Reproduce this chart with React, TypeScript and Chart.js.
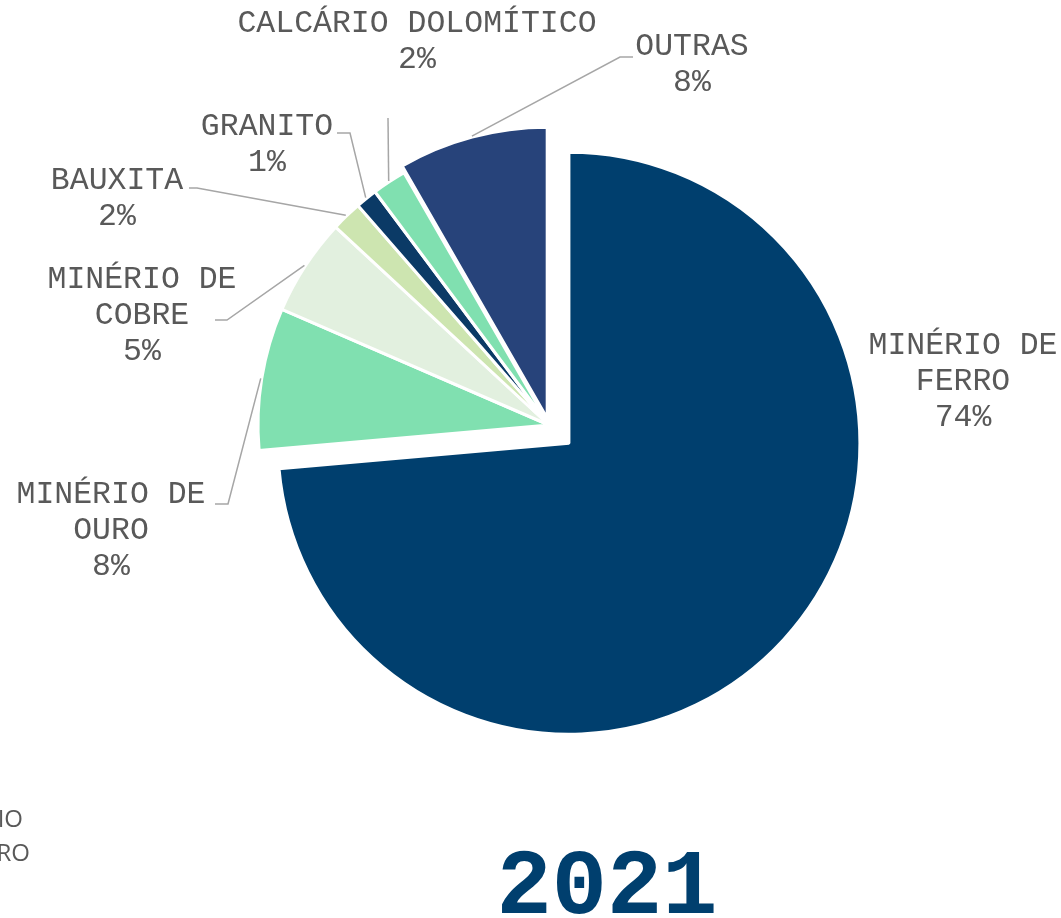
import React, { useEffect, useRef } from "react";
import { Chart, registerables } from "chart.js";

Chart.register(...registerables);

// ---- data ----
const categories: string[][] = [
  ["MINÉRIO DE", "FERRO"],
  ["MINÉRIO DE", "OURO"],
  ["MINÉRIO DE", "COBRE"],
  ["BAUXITA"],
  ["GRANITO"],
  ["CALCÁRIO DOLOMÍTICO"],
  ["OUTRAS"],
];
const shares: number[] = [73.6, 7.9, 5.4, 1.7, 1.2, 1.9, 8.3];
const chartTitle = "2021";
const clippedNeighbourLabel: string[] = ["MINÉRIO", "FERRO"];

// ---- styles / layout ----
const colors = ["#003F6E", "#80E0B0", "#E2F0DF", "#CDE5B0", "#0B3A66", "#80E0B0", "#27437A"];
const explodeShift = [27, 0, 0, 0, 0, 0, 7]; // px, along each slice's bisector
const labelFont = '31.5px "Liberation Mono", "Courier New", monospace';
const labelColor = "#595959";
const leaderColor = "#A6A6A6";
const lineHeight = 36;
// text centre x, first line centre y, leader polyline points after the arc point
const labelLayout: { x: number; y: number; leader: number[][] }[] = [
  { x: 963, y: 346, leader: [] },
  { x: 111, y: 495, leader: [[228, 504], [215, 504]] },
  { x: 142, y: 280, leader: [[227, 320], [215, 320]] },
  { x: 117, y: 181, leader: [[197, 188], [189, 188]] },
  { x: 267, y: 127, leader: [[350, 133], [337, 133]] },
  { x: 417, y: 24, leader: [[388, 118]] },
  { x: 692, y: 47, leader: [[620, 57], [633, 57]] },
];

const labelsPlugin = {
  id: "outerLabels",
  afterDatasetUpdate(chart: any, args: any) {
    const meta = args.meta || chart.getDatasetMeta(args.index);
    meta.data.forEach((arc: any, i: number) => {
      const mid = (arc.startAngle + arc.endAngle) / 2;
      const s = explodeShift[i] || 0;
      arc.x += Math.cos(mid) * s;
      arc.y += Math.sin(mid) * s;
    });
  },
  afterDatasetsDraw(chart: any) {
    const ctx: CanvasRenderingContext2D = chart.ctx;
    const meta = chart.getDatasetMeta(0);
    const total = shares.reduce((a, b) => a + b, 0);
    ctx.save();
    meta.data.forEach((arc: any, i: number) => {
      const p = arc.getProps(["x", "y", "startAngle", "endAngle", "outerRadius"], true);
      const mid = (p.startAngle + p.endAngle) / 2;
      const lay = labelLayout[i];
      if (lay.leader.length) {
        const r = p.outerRadius + 1;
        ctx.beginPath();
        ctx.moveTo(p.x + Math.cos(mid) * r, p.y + Math.sin(mid) * r);
        lay.leader.forEach((pt) => ctx.lineTo(pt[0], pt[1]));
        ctx.strokeStyle = leaderColor;
        ctx.lineWidth = 1.5;
        ctx.stroke();
      }
      const lines = [...categories[i], Math.round((shares[i] / total) * 100) + "%"];
      ctx.font = labelFont;
      ctx.fillStyle = labelColor;
      ctx.textAlign = "center";
      ctx.textBaseline = "middle";
      lines.forEach((t, k) => ctx.fillText(t, lay.x, lay.y + k * lineHeight));
    });

    // title
    ctx.font = 'bold 92px "Liberation Mono", "Courier New", monospace';
    ctx.fillStyle = "#003F6E";
    ctx.textAlign = "center";
    ctx.textBaseline = "alphabetic";
    ctx.fillText(chartTitle, 607, 913);

    // clipped label of neighbouring chart
    ctx.font = '24px "Open Sans", sans-serif';
    ctx.fillStyle = labelColor;
    ctx.textAlign = "right";
    ctx.textBaseline = "middle";
    ctx.fillText(clippedNeighbourLabel[0], 23, 820);
    ctx.fillText(clippedNeighbourLabel[1], 30, 854);
    ctx.restore();
  },
};

export default function App() {
  const ref = useRef<HTMLCanvasElement | null>(null);
  useEffect(() => {
    if (!ref.current) return;
    const chart = new Chart(ref.current, {
      type: "pie",
      data: {
        labels: categories.map((c) => c.join(" ")),
        datasets: [
          {
            data: shares,
            backgroundColor: colors,
            borderColor: "#FFFFFF",
            borderWidth: 3,
            radius: 291,
          } as any,
        ],
      },
      options: {
        responsive: false,
        animation: false,
        layout: { padding: { left: 37, right: 0, top: 0, bottom: 68 } },
        plugins: {
          legend: { display: false },
          tooltip: { enabled: false },
          title: { display: false },
        },
      },
      plugins: [labelsPlugin],
    });
    return () => chart.destroy();
  }, []);
  return (
    <div style={{ position: "fixed", left: 0, top: 0, width: 1061, height: 918, background: "#FFFFFF" }}>
      <canvas ref={ref} width={1061} height={918} style={{ display: "block" }} />
    </div>
  );
}
